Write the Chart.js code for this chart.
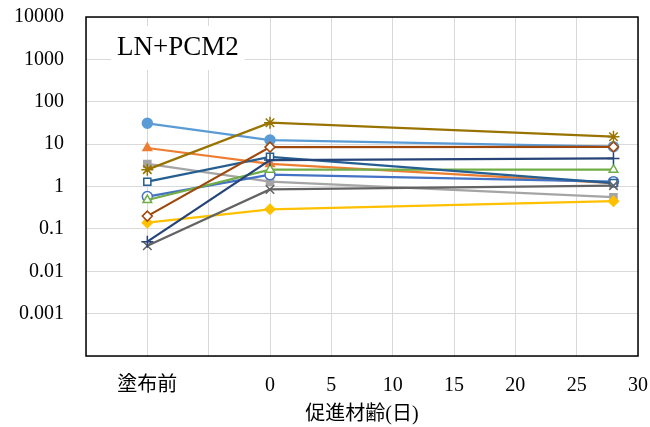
<!DOCTYPE html>
<html>
<head>
<meta charset="utf-8">
<script src="https://cdn.jsdelivr.net/npm/chart.js@4/dist/chart.umd.min.js"></script>
<style>
  html, body { margin: 0; padding: 0; background: #fff; }
  #wrap { width: 650px; height: 427px; }
</style>
</head>
<body>
<div id="wrap"><canvas id="chart"></canvas></div>
<script>
// x positions: -10 stands for "before coating", then age in days
const ages = [-10, 0, 28];
const yTicks = [0.0001, 0.001, 0.01, 0.1, 1, 10, 100, 1000, 10000];

const s1 = [31, 12.5, 8.7];
const s2 = [8.1, 3.4, 1.2];
const s3 = [3.4, 1.3, 0.56];
const s4 = [0.14, 0.29, 0.45];
const s5 = [0.58, 1.9, 1.3];
const s6 = [0.48, 2.5, 2.5];
const s7 = [1.3, 5.0, 1.2];
const s8 = [0.2, 8.5, 8.6];
const s9 = [0.04, 0.85, 1.05];
const s10 = [2.5, 32, 15];
const s11 = [0.05, 4.2, 4.6];

const serif = '"Liberation Serif", "Noto Sans CJK JP", serif';

function series(values, color, style, open) {
    return {
        data: values.map((v, i) => ({ x: ages[i], y: v })),
        borderColor: color,
        backgroundColor: open ? '#ffffff' : color,
        pointBackgroundColor: open ? '#ffffff' : color,
        pointBorderColor: color,
        pointStyle: style,
        pointRadius: style === 'star' || style === 'cross' || style === 'crossRot' ? 6 : 5,
        pointBorderWidth: 1.5,
        borderWidth: 2.25,
        tension: 0
    };
}

const datasets = [
    series(s1, '#5B9BD5', 'circle', false),
    series(s2, '#ED7D31', 'triangle', false),
    series(s3, '#A5A5A5', 'rect', false),
    series(s4, '#FFC000', 'rectRot', false),
    series(s5, '#4472C4', 'circle', true),
    series(s6, '#70AD47', 'triangle', true),
    series(s7, '#255E91', 'rect', true),
    series(s8, '#9E480E', 'rectRot', true),
    series(s9, '#636363', 'crossRot', false),
    series(s10, '#997300', 'star', false),
    series(s11, '#264478', 'cross', false)
];
// later series drawn on top, like the original
datasets.forEach((d, i) => { d.order = datasets.length - i; });

const frameAndTitle = {
    id: 'frameAndTitle',
    afterDraw(chart) {
        const { ctx, chartArea } = chart;
        ctx.save();
        // title box in the upper left of the plot
        ctx.font = '27px "Liberation Serif", serif';
        const label = 'LN+PCM2';
        const w = ctx.measureText(label).width;
        const bx = chartArea.left + 25, by = chartArea.top + 9;
        ctx.fillStyle = '#ffffff';
        ctx.fillRect(bx, by, w + 12, 44);
        ctx.fillStyle = '#000000';
        ctx.textBaseline = 'middle';
        ctx.fillText(label, bx + 6, by + 22);
        // plot frame
        ctx.strokeStyle = '#000000';
        ctx.lineWidth = 1.5;
        ctx.strokeRect(chartArea.left, chartArea.top, chartArea.right - chartArea.left, chartArea.bottom - chartArea.top);
        ctx.restore();
    }
};

new Chart(document.getElementById('chart'), {
    type: 'line',
    data: { datasets: datasets },
    options: {
        responsive: true,
        maintainAspectRatio: false,
        animation: false,
        layout: { padding: { top: 17, right: 12, left: 0, bottom: 0 } },
        plugins: {
            legend: { display: false },
            tooltip: { enabled: false }
        },
        scales: {
            x: {
                type: 'linear',
                min: -15,
                max: 30,
                grid: { color: '#d9d9d9', drawTicks: false },
                border: { display: false },
                ticks: {
                    stepSize: 5,
                    padding: 18,
                    color: '#000',
                    font: { family: serif, size: 20 },
                    maxRotation: 0,
                    autoSkip: false,
                    callback: v => v === -10 ? '塗布前' : (v < 0 ? '' : String(v))
                },
                title: {
                    display: true,
                    text: '促進材齢(日)',
                    color: '#000',
                    font: { family: serif, size: 20 },
                    padding: { top: 8, bottom: 0 }
                },
                afterFit: scale => {
                    scale.height = 71;
                    scale.paddingLeft = 0;
                    scale.paddingRight = 0;
                }
            },
            y: {
                type: 'logarithmic',
                min: 0.0001,
                max: 10000,
                grid: { color: '#d9d9d9', drawTicks: false },
                border: { display: false },
                afterBuildTicks: scale => { scale.ticks = yTicks.map(v => ({ value: v })); },
                ticks: {
                    padding: 22,
                    color: '#000',
                    font: { family: serif, size: 20 },
                    callback: v => v === 0.0001 ? '' : String(v)
                },
                afterFit: scale => {
                    scale.width = 86;
                    scale.paddingTop = 0;
                    scale.paddingBottom = 0;
                }
            }
        }
    },
    plugins: [frameAndTitle]
});
</script>
</body>
</html>
